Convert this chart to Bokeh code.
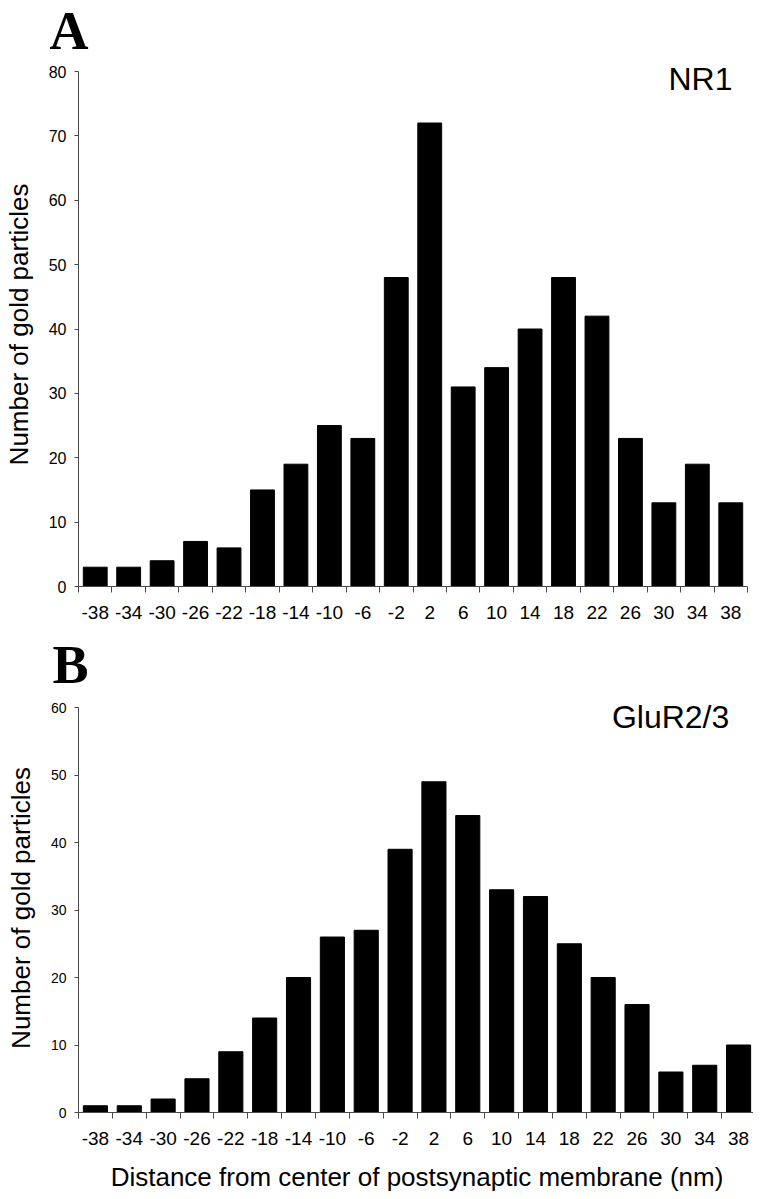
from bokeh.plotting import figure
from bokeh.layouts import column
from bokeh.models import FixedTicker, Label, Range1d
from bokeh.embed import file_html
from bokeh.resources import INLINE

# ---- data ----
distances = [-38, -34, -30, -26, -22, -18, -14, -10, -6, -2, 2, 6, 10, 14, 18, 22, 26, 30, 34, 38]
dist_labels = ["-38", "-34", "-30", "-26", "-22", "-18", "-14", "-10", "-6", "-2",
               "2", "6", "10", "14", "18", "22", "26", "30", "34", "38"]
nr1_counts = [3, 3, 4, 7, 6, 15, 19, 25, 23, 48, 72, 31, 34, 40, 48, 42, 23, 13, 19, 13]
glur_counts = [1, 1, 2, 5, 9, 14, 20, 26, 27, 39, 49, 44, 33, 32, 25, 20, 16, 6, 7, 10]
yticks_a = [0, 10, 20, 30, 40, 50, 60, 70, 80]
yticks_b = [0, 10, 20, 30, 40, 50, 60]

SANS = "Liberation Sans"
NARROW = "Liberation Sans Narrow, Liberation Sans"
SERIF = "Liberation Serif"
AXIS_COLOR = "#4a4a4a"

bin_w = distances[1] - distances[0]
boundaries = [d - bin_w / 2 for d in distances] + [distances[-1] + bin_w / 2]
x_lo, x_hi = boundaries[0], boundaries[-1]


def make_panel(counts, yticks, y_top, frame_w, frame_h, border_left, border_right,
               border_top, border_bottom, ytick_font, ytick_size, letter, letter_offset,
               letter_standoff, letter_valign, letter_lh=1.0, xtitle=None):
    p = figure(frame_width=frame_w, frame_height=frame_h,
               x_range=Range1d(x_lo, x_hi), y_range=Range1d(yticks[0], y_top),
               output_backend="svg", toolbar_location=None,
               min_border_left=border_left, min_border_right=border_right,
               min_border_top=border_top, min_border_bottom=border_bottom)
    p.outline_line_color = None
    p.xgrid.grid_line_color = None
    p.ygrid.grid_line_color = None
    p.background_fill_color = "white"
    p.border_fill_color = "white"

    p.title.text = letter
    p.title.text_font = SERIF
    p.title.text_font_size = "54px"
    p.title.text_font_style = "bold"
    p.title.text_color = "black"
    p.title.align = "left"
    p.title.vertical_align = letter_valign
    p.title.offset = letter_offset
    p.title.standoff = letter_standoff
    p.title.text_line_height = letter_lh

    p.vbar(x=distances, top=counts, bottom=0, width=2.85,
           fill_color="black", line_color="black")

    xa = p.xaxis[0]
    xa.ticker = FixedTicker(ticks=distances, minor_ticks=boundaries)
    xa.major_label_overrides = {d: s for d, s in zip(distances, dist_labels)}
    xa.major_tick_out = 0
    xa.major_tick_in = 0
    xa.minor_tick_out = 6
    xa.minor_tick_in = 0
    xa.minor_tick_line_color = AXIS_COLOR
    xa.axis_line_color = AXIS_COLOR
    xa.major_label_text_font = SANS
    xa.major_label_text_font_size = "19px"
    xa.major_label_text_color = "black"
    xa.major_label_standoff = 13
    if xtitle:
        xa.axis_label = xtitle
        xa.axis_label_text_font = SANS
        xa.axis_label_text_font_size = "26px"
        xa.axis_label_text_font_style = "normal"
        xa.axis_label_text_color = "black"
        xa.axis_label_standoff = 14

    ya = p.yaxis[0]
    ya.ticker = FixedTicker(ticks=yticks)
    ya.bounds = (yticks[0], yticks[-1])
    ya.minor_tick_line_color = None
    ya.major_tick_out = 4
    ya.major_tick_in = 0
    ya.major_tick_line_color = AXIS_COLOR
    ya.axis_line_color = AXIS_COLOR
    ya.major_label_text_font = ytick_font
    ya.major_label_text_font_size = ytick_size
    ya.major_label_text_color = "black"
    ya.major_label_standoff = 8
    ya.axis_label = "Number of gold particles"
    ya.axis_label_text_font = SANS
    ya.axis_label_text_font_size = "26px"
    ya.axis_label_text_font_style = "normal"
    ya.axis_label_text_color = "black"
    ya.axis_label_standoff = 12
    return p


pa = make_panel(nr1_counts, yticks_a, 81.4, 669, 524, 71, 5, 62, 37, NARROW, "16px",
                "A", -29, 0, "top", 0.8)
pa.add_layout(Label(x=38.2, y=78.76, text="NR1", text_font=SANS, text_font_size="32px",
                    text_align="right", text_baseline="alphabetic", text_color="black"))

pb = make_panel(glur_counts, yticks_b, 60.6, 677, 409, 68, 0, 80, 70, SANS, "14px",
                "B", -26, 18, "bottom",
                xtitle="Distance from center of postsynaptic membrane (nm)")
pb.add_layout(Label(x=36.9, y=58.53, text="GluR2/3", text_font=SANS, text_font_size="32px",
                    text_align="right", text_baseline="alphabetic", text_color="black"))

layout = column(pa, pb, spacing=0)
open("out.html", "w").write(file_html(layout, INLINE))
